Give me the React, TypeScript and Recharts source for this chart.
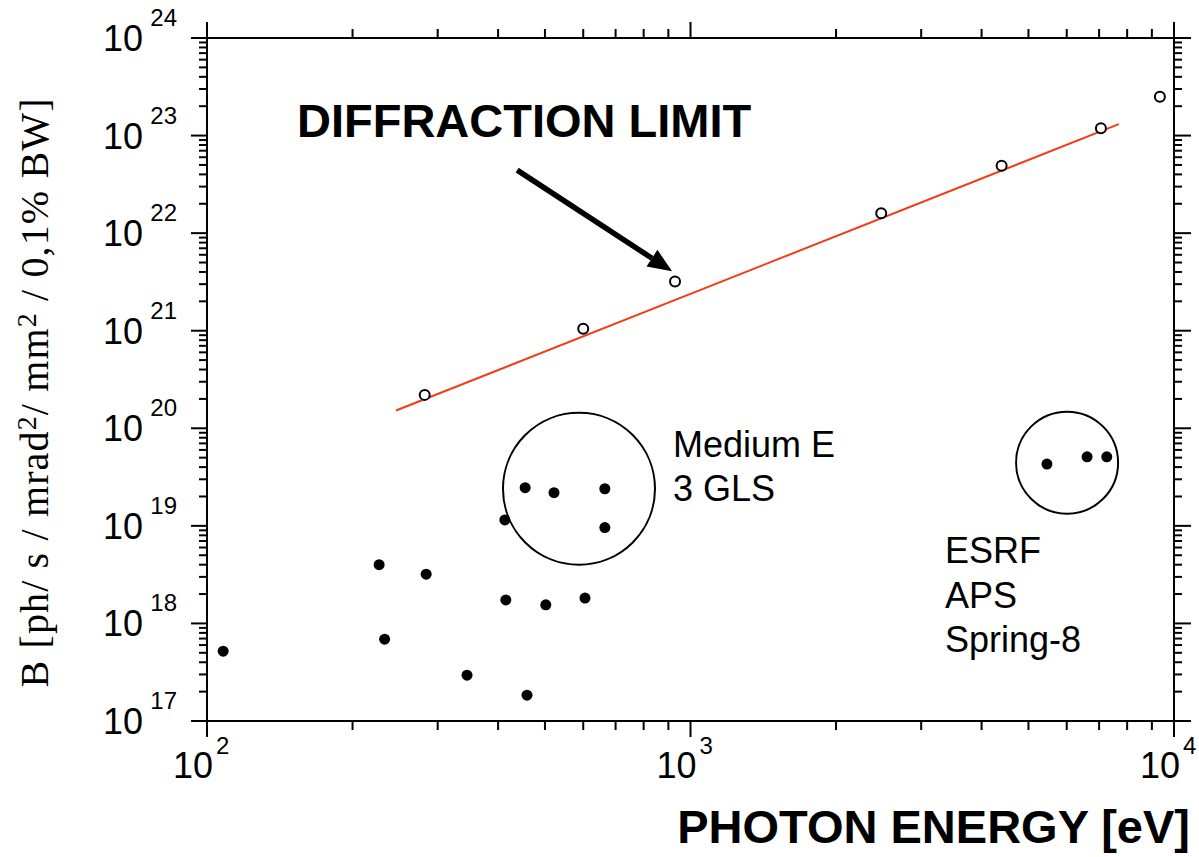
import React from "react";
import {
  ScatterChart,
  Scatter,
  XAxis,
  YAxis,
  ReferenceLine,
  ReferenceDot,
} from "recharts";

// Diffraction limit (open circles)
const limitEnergy = [282, 600, 929, 2480, 4400, 7060, 9350];
const limitBrightness = [2.2e20, 1.05e21, 3.2e21, 1.6e22, 4.9e22, 1.19e23, 2.5e23];

// Existing light sources (filled dots)
const sourceEnergy = [
  108, 227, 233, 284, 345, 413, 415, 455, 459, 522, 502, 605, 665, 665, 5460,
  6610, 7260,
];
const sourceBrightness = [
  5.2e17, 4.0e18, 6.9e17, 3.2e18, 2.95e17, 1.15e19, 1.74e18, 2.46e19, 1.84e17,
  2.19e19, 1.55e18, 1.82e18, 2.4e19, 9.6e18, 4.3e19, 5.1e19, 5.1e19,
];

// Red diffraction-limit line, start and end
const fitEnergy = [246, 7690];
const fitBrightness = [1.52e20, 1.31e23];

// Group circles (Medium E 3 GLS, ESRF/APS/Spring-8)
const groupEnergy = [588, 6010];
const groupBrightness = [2.4e19, 4.44e19];
const groupRadius = [76, 51];

// Arrow pointing at the line
const arrowEnergy = [438, 916];
const arrowBrightness = [4.42e22, 4.06e21];

// Log ticks
const mantissas = [1, 2, 3, 4, 5, 6, 7, 8, 9];
const xDecades = [1e2, 1e3];
const yDecades = [1e17, 1e18, 1e19, 1e20, 1e21, 1e22, 1e23];

const xTicks = xDecades.flatMap((d) => mantissas.map((m) => m * d)).concat([1e4]);
const yTicks = yDecades.flatMap((d) => mantissas.map((m) => m * d)).concat([1e24]);

const limitPoints = limitEnergy.map((x, i) => ({ x, y: limitBrightness[i] }));
const sourcePoints = sourceEnergy.map((x, i) => ({ x, y: sourceBrightness[i] }));

const INK = "#000";
const SANS = "'Liberation Sans', Arial, Helvetica, sans-serif";
const NARROW = "'Liberation Sans Narrow', 'Liberation Sans', Arial, sans-serif";
const SERIF = "'Liberation Serif', 'Times New Roman', serif";

function isMajor(v: number) {
  const l = Math.log10(v);
  return Math.abs(l - Math.round(l)) < 1e-6;
}

function BottomTick(props: any) {
  const { x, y, payload } = props;
  const v = payload.value;
  const major = isMajor(v);
  return (
    <g>
      <line x1={x} y1={y} x2={x} y2={y + (major ? 16 : 9)} stroke={INK} strokeWidth={2} />
      {major && (
        <g fill={INK}>
          <text x={x + 6} y={y + 57} textAnchor="end" fontSize={36} fontFamily={NARROW}>
            10
          </text>
          <text x={x + 9} y={y + 33} textAnchor="start" fontSize={24} fontFamily={SANS}>
            {Math.round(Math.log10(v))}
          </text>
        </g>
      )}
    </g>
  );
}

function TopTick(props: any) {
  const { x, y, payload } = props;
  const major = isMajor(payload.value);
  return <line x1={x} y1={y} x2={x} y2={y - (major ? 16 : 9)} stroke={INK} strokeWidth={2} />;
}

function LeftTick(props: any) {
  const { x, y, payload } = props;
  const v = payload.value;
  const major = isMajor(v);
  return (
    <g>
      <line x1={x} y1={y} x2={x - (major ? 16 : 8)} y2={y} stroke={INK} strokeWidth={2} />
      {major && (
        <g fill={INK}>
          <text x={x - 64} y={y + 13} textAnchor="end" fontSize={36} fontFamily={NARROW}>
            10
          </text>
          <text x={x - 30} y={y - 12} textAnchor="end" fontSize={24} fontFamily={SANS}>
            {Math.round(Math.log10(v))}
          </text>
        </g>
      )}
    </g>
  );
}

function RightTick(props: any) {
  const { x, y, payload } = props;
  const major = isMajor(payload.value);
  return <line x1={x} y1={y} x2={x + (major ? 17 : 8)} y2={y} stroke={INK} strokeWidth={2} />;
}

function OpenCircle(props: any) {
  const { cx, cy } = props;
  return <circle cx={cx} cy={cy} r={5} fill="#fff" stroke={INK} strokeWidth={2} />;
}

function FilledDot(props: any) {
  const { cx, cy } = props;
  return <circle cx={cx} cy={cy} r={5.5} fill={INK} />;
}

function ArrowShape(props: any) {
  const { x1, y1, x2, y2 } = props;
  const ang = Math.atan2(y2 - y1, x2 - x1);
  const head = 24;
  const half = 10;
  const bx = x2 - head * Math.cos(ang);
  const by = y2 - head * Math.sin(ang);
  const px = -Math.sin(ang) * half;
  const py = Math.cos(ang) * half;
  return (
    <g>
      <line x1={x1} y1={y1} x2={bx} y2={by} stroke={INK} strokeWidth={5.5} />
      <polygon points={`${x2},${y2} ${bx + px},${by + py} ${bx - px},${by - py}`} fill={INK} />
    </g>
  );
}

const axisLine = { stroke: INK, strokeWidth: 2 };

export default function App() {
  return (
    <div style={{ position: "absolute", left: 0, top: 0, width: 1199, height: 857, background: "#fff" }}>
      <ScatterChart
        width={1199}
        height={857}
        margin={{ top: 18, right: 5, bottom: 56, left: 107 }}
      >
        <XAxis
          dataKey="x"
          type="number"
          scale="log"
          domain={[100, 10000]}
          allowDataOverflow
          ticks={xTicks}
          interval={0}
          tick={<BottomTick />}
          tickLine={false}
          tickSize={0}
          tickMargin={0}
          axisLine={axisLine}
          height={80}
        />
        <XAxis
          xAxisId="top"
          orientation="top"
          dataKey="x"
          type="number"
          scale="log"
          domain={[100, 10000]}
          allowDataOverflow
          ticks={xTicks}
          interval={0}
          tick={<TopTick />}
          tickLine={false}
          tickSize={0}
          tickMargin={0}
          axisLine={axisLine}
          height={20}
        />
        <YAxis
          dataKey="y"
          type="number"
          scale="log"
          domain={[1e17, 1e24]}
          allowDataOverflow
          ticks={yTicks}
          interval={0}
          tick={<LeftTick />}
          tickLine={false}
          tickSize={0}
          tickMargin={0}
          axisLine={axisLine}
          width={100}
        />
        <YAxis
          yAxisId="right"
          orientation="right"
          dataKey="y"
          type="number"
          scale="log"
          domain={[1e17, 1e24]}
          allowDataOverflow
          ticks={yTicks}
          interval={0}
          tick={<RightTick />}
          tickLine={false}
          tickSize={0}
          tickMargin={0}
          axisLine={axisLine}
          width={20}
        />
        <ReferenceLine
          segment={[
            { x: fitEnergy[0], y: fitBrightness[0] },
            { x: fitEnergy[1], y: fitBrightness[1] },
          ]}
          stroke="#f23c16"
          strokeWidth={2}
          ifOverflow="visible"
        />
        <ReferenceLine
          segment={[
            { x: arrowEnergy[0], y: arrowBrightness[0] },
            { x: arrowEnergy[1], y: arrowBrightness[1] },
          ]}
          shape={ArrowShape}
          ifOverflow="visible"
        />
        {groupEnergy.map((e, i) => (
          <ReferenceDot
            key={i}
            x={e}
            y={groupBrightness[i]}
            r={groupRadius[i]}
            fill="none"
            stroke={INK}
            strokeWidth={2}
            ifOverflow="visible"
          />
        ))}
        <Scatter data={limitPoints} shape={OpenCircle} isAnimationActive={false} />
        <Scatter data={sourcePoints} shape={FilledDot} isAnimationActive={false} />
        <Scatter xAxisId="top" yAxisId="right" data={[]} isAnimationActive={false} />
      </ScatterChart>

      <svg
        width={1199}
        height={857}
        style={{ position: "absolute", left: 0, top: 0, pointerEvents: "none" }}
      >
        <g fill={INK} fontFamily={SANS}>
          <text x={297} y={137} fontSize={47} fontWeight="bold">
            DIFFRACTION LIMIT
          </text>
          <text x={673} y={457} fontSize={36}>Medium E</text>
          <text x={673} y={501} fontSize={36}>3 GLS</text>
          <text x={945} y={563} fontSize={36}>ESRF</text>
          <text x={945} y={608} fontSize={36}>APS</text>
          <text x={945} y={652} fontSize={36}>Spring-8</text>
          <text x={1190} y={843} fontSize={47} fontWeight="bold" textAnchor="end">
            PHOTON ENERGY [eV]
          </text>
        </g>
        <text
          x={48}
          y={393}
          transform="rotate(-90 48 393)"
          textAnchor="middle"
          fontFamily={SERIF}
          fontSize={40}
          fill={INK}
          textLength={589}
          lengthAdjust="spacing"
        >
          B [ph/ s / mrad
          <tspan fontSize={28} dy={-12}>2</tspan>
          <tspan dy={12}>/ mm</tspan>
          <tspan fontSize={28} dy={-12}>2</tspan>
          <tspan dy={12}> / 0,1% BW]</tspan>
        </text>
      </svg>
    </div>
  );
}
